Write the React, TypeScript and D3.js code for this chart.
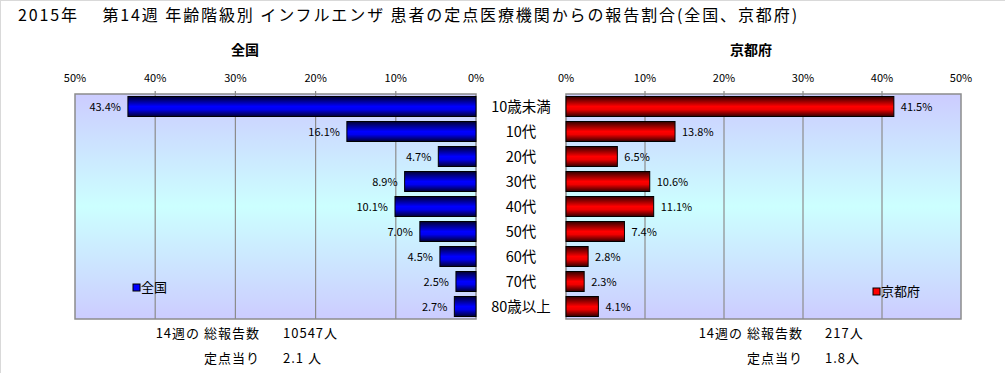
import * as d3 from 'd3';

const categories = ['10歳未満', '10代', '20代', '30代', '40代', '50代', '60代', '70代', '80歳以上'];
const zenkoku = [43.4, 16.1, 4.7, 8.9, 10.1, 7.0, 4.5, 2.5, 2.7];
const kyoto = [41.5, 13.8, 6.5, 10.6, 11.1, 7.4, 2.8, 2.3, 4.1];
const ticks = [0, 10, 20, 30, 40, 50];

const TITLE = '2015年　 第14週 年齢階級別 インフルエンザ 患者の定点医療機関からの報告割合(全国、京都府)';
const JP = '"Noto Sans CJK JP", "Noto Sans", sans-serif';

const W = 1006;
const H = 373;
const TOP = 94;
const BOTTOM = 319;

const App = () => {
  const xLeft = d3.scaleLinear().domain([0, 50]).range([476, 75]);
  const xRight = d3.scaleLinear().domain([0, 50]).range([566, 961]);
  const y = d3.scaleBand().domain(categories).range([TOP, BOTTOM]).paddingInner(0.2).paddingOuter(0.1);

  const panel = (x, values, side) => {
    const x0 = x(0);
    const x50 = x(50);
    const left = Math.min(x0, x50);
    const width = Math.abs(x50 - x0);
    const isLeft = side === 'left';
    return (
      <g>
        <rect x={left} y={TOP} width={width} height={BOTTOM - TOP} fill="url(#bg)" stroke="#8c8c8c" strokeWidth={1.5} />
        {ticks.map(t => (
          <g key={t}>
            {t > 0 && t < 50 && (
              <line x1={x(t)} x2={x(t)} y1={TOP - 3} y2={BOTTOM} stroke="#8c8c8c" strokeWidth={1.2} />
            )}
            <text x={x(t)} y={82} textAnchor="middle" fontSize={11} fontFamily={JP} fill="#000">{t}%</text>
          </g>
        ))}
        {values.map((v, i) => {
          const c = categories[i];
          const bx = Math.min(x(0), x(v));
          const bw = Math.abs(x(v) - x(0));
          const by = y(c);
          const bh = y.bandwidth();
          return (
            <g key={c}>
              <rect x={bx} y={by} width={bw} height={bh}
                fill={isLeft ? 'url(#blueBar)' : 'url(#redBar)'} stroke="#000" strokeWidth={1} />
              <text x={isLeft ? x(v) - 7 : x(v) + 7} y={by + bh / 2 + 4}
                textAnchor={isLeft ? 'end' : 'start'} fontSize={11} fontFamily={JP} fill="#000">
                {v.toFixed(1)}%
              </text>
            </g>
          );
        })}
      </g>
    );
  };

  return (
    <svg width={W} height={H} style={{ position: 'absolute', left: 0, top: 0 }} fontFamily={JP}>
      <defs>
        <linearGradient id="bg" x1="0" y1="0" x2="0" y2="1">
          <stop offset="0" stopColor="#ccccff" />
          <stop offset="0.5" stopColor="#ccffff" />
          <stop offset="1" stopColor="#ccccff" />
        </linearGradient>
        <linearGradient id="blueBar" x1="0" y1="0" x2="0" y2="1">
          <stop offset="0" stopColor="#000033" />
          <stop offset="0.5" stopColor="#0000ff" />
          <stop offset="0.65" stopColor="#0000ee" />
          <stop offset="1" stopColor="#000033" />
        </linearGradient>
        <linearGradient id="redBar" x1="0" y1="0" x2="0" y2="1">
          <stop offset="0" stopColor="#330000" />
          <stop offset="0.5" stopColor="#ff0000" />
          <stop offset="0.65" stopColor="#ee0000" />
          <stop offset="1" stopColor="#330000" />
        </linearGradient>
      </defs>
      <rect x={0} y={0} width={W} height={H} fill="#fff" />
      <line x1={0} x2={1005} y1={0.5} y2={0.5} stroke="#d9d9d9" />
      <line x1={0.5} x2={0.5} y1={0} y2={H} stroke="#d9d9d9" />

      <text x={18} y={21} fontSize={16} letterSpacing={1.9} fill="#000">{TITLE}</text>

      <text x={245} y={55} textAnchor="middle" fontSize={14} fontWeight="bold">全国</text>
      <text x={751} y={55} textAnchor="middle" fontSize={14} fontWeight="bold">京都府</text>

      {panel(xLeft, zenkoku, 'left')}
      {panel(xRight, kyoto, 'right')}

      {categories.map(c => (
        <text key={c} x={521} y={y(c) + y.bandwidth() / 2 + 5} textAnchor="middle" fontSize={14.5}>{c}</text>
      ))}

      <rect x={133} y={284} width={7} height={7} fill="#0000ff" stroke="#000" />
      <text x={141} y={292} fontSize={13}>全国</text>
      <rect x={873} y={288} width={7} height={7} fill="#ff0000" stroke="#000" />
      <text x={881} y={296} fontSize={13}>京都府</text>

      <text x={260} y={338} textAnchor="end" fontSize={13} letterSpacing={1}>14週の 総報告数</text>
      <text x={283} y={338} fontSize={13} letterSpacing={1}>10547人</text>
      <text x={260} y={363} textAnchor="end" fontSize={13} letterSpacing={1}>定点当り</text>
      <text x={283} y={363} fontSize={13} letterSpacing={1}>2.1 人</text>

      <text x={803} y={338} textAnchor="end" fontSize={13} letterSpacing={1}>14週の 総報告数</text>
      <text x={825} y={338} fontSize={13} letterSpacing={1}>217人</text>
      <text x={803} y={363} textAnchor="end" fontSize={13} letterSpacing={1}>定点当り</text>
      <text x={825} y={363} fontSize={13} letterSpacing={1}>1.8人</text>
    </svg>
  );
};

export default App;
